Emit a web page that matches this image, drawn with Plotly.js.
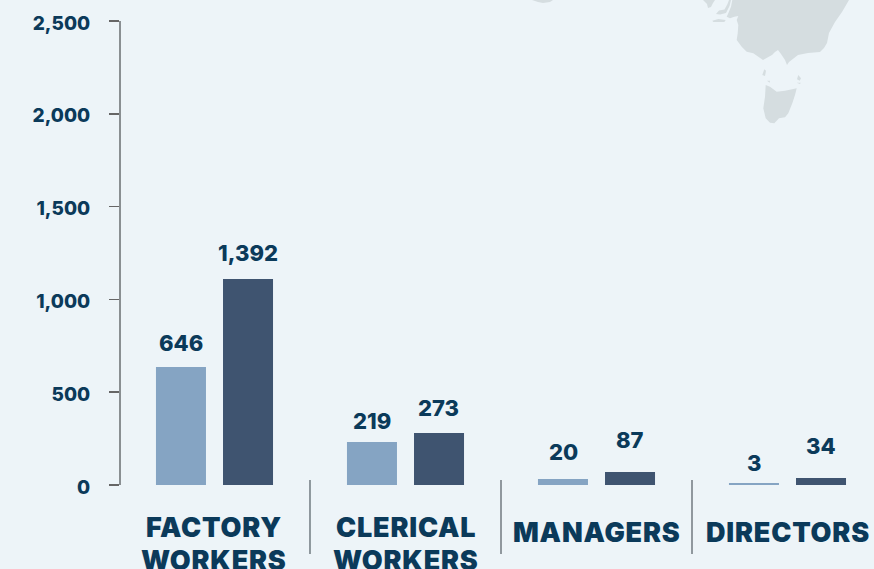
<!DOCTYPE html>
<html>
<head>
<meta charset="utf-8">
<script src="https://cdn.plot.ly/plotly-3.0.1.min.js"></script>
<style>
html,body{margin:0;padding:0;background:#edf4f8;overflow:hidden}
svg text[style*="font-size: 27px"]{letter-spacing:0.8px}
</style>
</head>
<body>
<div id="chart" style="width:874px;height:569px"></div>
<script>
const categoryLines = [['FACTORY', 'WORKERS'], ['CLERICAL', 'WORKERS'], ['MANAGERS'], ['DIRECTORS']];
const lightValues = [636, 232, 32, 11];
const darkValues = [1110, 280, 70, 38];
const lightLabels = ['646', '219', '20', '3'];
const darkLabels = ['1,392', '273', '87', '34'];
const lightLabelGaps = [15, 12, 18, 11];
const darkLabelGaps = [17, 16, 23, 23];
const yTicks = [0, 500, 1000, 1500, 2000, 2500];
const categoryLineCenters = [[527.5, 560], [527.5, 560], [532], [532]];

const W = 874, H = 569, L = 121, T = 21, B = 84;
const INK = '#0b3a5a';
const FONT = 'Inter, "DejaVu Sans", sans-serif';

// Decorative background map, outlines in page pixels
const mainland = [[732.3,0],[731,6.7],[728.3,13.3],[726.7,16.7],[730,18.3],[734.3,16.7],[738.3,16],[736.7,20],[738.3,25],[737.7,33.3],[736.7,40],[741.7,46.7],[746.7,51.7],[753.3,53.3],[763,60],[772,55],[775,52],[778,50],[781,54],[785,60],[787,65],[789,62],[798,55],[808,53],[820,52],[824,48],[827,43],[829,33],[835,22],[842,12],[849,0]];
const eyrePiece = [[703,0],[707,4],[708,8],[711,7],[713,3],[715,0]];
const yorkePiece = [[716,14],[719,10.5],[724.5,9.5],[727.5,4],[729,0],[731,0],[729.5,6],[726,13],[720,14.5]];
const kangarooIsland = [[712.3,20.7],[718.3,19],[725.7,20],[724.3,22],[713.3,22]];
const tasmania = [[765.7,85],[770,86.7],[776.7,91.7],[785,90.7],[796.7,88.3],[795,95],[792.3,103.3],[788.3,113.3],[785,117.3],[779,118.3],[774.3,123.3],[770,122.7],[765.7,118.3],[763.3,108.3],[765,96.7]];
const kingIsland = [[762.3,75],[764.3,69.3],[766,70.7],[765,76]];
const flindersIsland = [[797,79.3],[798.3,75],[801,78.3],[799.7,80.7]];
const capeBarren = [[796.7,82.7],[800.7,82.7],[800,84]];
const hunterIsland = [[767,80.7],[770,80.7],[769.7,82.7]];
const asiaTip = [[532,0],[538,2],[543,3],[550,2],[553,0]];

function landPath(pts) {
  return {
    type: 'path', xref: 'paper', yref: 'paper', layer: 'below',
    fillcolor: '#d5dde0', line: {width: 0},
    path: pts.map((p, i) => (i ? 'L' : 'M') + ((p[0] - L) / (W - L)) + ',' + ((H - B - p[1]) / (H - B - T))).join(' ') + ' Z'
  };
}

const barOffset = 0.175;
const annotations = [];
categoryLines.forEach((lines, i) => {
  annotations.push({x: i - barOffset, y: lightValues[i], text: lightLabels[i], yshift: lightLabelGaps[i] - 6,
    xref: 'x', yref: 'y', showarrow: false, yanchor: 'bottom', font: {family: FONT, size: 22, color: INK, weight: 800}});
  annotations.push({x: i + barOffset, y: darkValues[i], text: darkLabels[i], yshift: darkLabelGaps[i] - 6,
    xref: 'x', yref: 'y', showarrow: false, yanchor: 'bottom', font: {family: FONT, size: 22, color: INK, weight: 800}});
  lines.forEach((line, k) => {
    annotations.push({x: i, y: (H - B - categoryLineCenters[i][k]) / (H - B - T), text: line,
      xref: 'x', yref: 'paper', showarrow: false, yanchor: 'middle', align: 'center',
      font: {family: FONT, size: 27, color: INK, weight: 900}});
  });
});

const separators = [0.5, 1.5, 2.5].map(x => ({
  type: 'line', xref: 'x', yref: 'paper', x0: x, x1: x,
  y0: (H - B - 480) / (H - B - T), y1: (H - B - 554) / (H - B - T),
  line: {color: '#707a80', width: 1.5}
}));

const xIdx = categoryLines.map((c, i) => i);
Plotly.newPlot('chart', [
  {type: 'bar', x: xIdx, y: lightValues, marker: {color: '#85a4c3'}, hoverinfo: 'y', cliponaxis: false},
  {type: 'bar', x: xIdx, y: darkValues, marker: {color: '#3f5470'}, hoverinfo: 'y', cliponaxis: false}
], {
  width: W, height: H,
  paper_bgcolor: '#edf4f8', plot_bgcolor: 'rgba(0,0,0,0)',
  margin: {l: L, r: 0, t: T, b: B},
  barmode: 'group', bargap: 0.298, bargroupgap: 0.254,
  showlegend: false,
  xaxis: {type: 'linear', range: [-0.4895, 3.4529], showticklabels: false, showgrid: false, zeroline: false, ticks: '', showline: false},
  yaxis: {range: [0, 2500], tickvals: yTicks, tickformat: ',', showgrid: false, zeroline: false,
    showline: true, linecolor: '#8a8f92', linewidth: 2, ticks: 'outside', ticklen: 10, tickcolor: '#666', tickwidth: 1.5,
    ticklabelstandoff: 15, ticklabelshift: 2,
    tickfont: {family: FONT, size: 19, color: INK, weight: 800}, automargin: false},
  annotations: annotations,
  shapes: [mainland, eyrePiece, yorkePiece, kangarooIsland, tasmania, kingIsland, flindersIsland, capeBarren, hunterIsland, asiaTip].map(landPath).concat(separators)
}, {displayModeBar: false, staticPlot: true});
</script>
</body>
</html>
